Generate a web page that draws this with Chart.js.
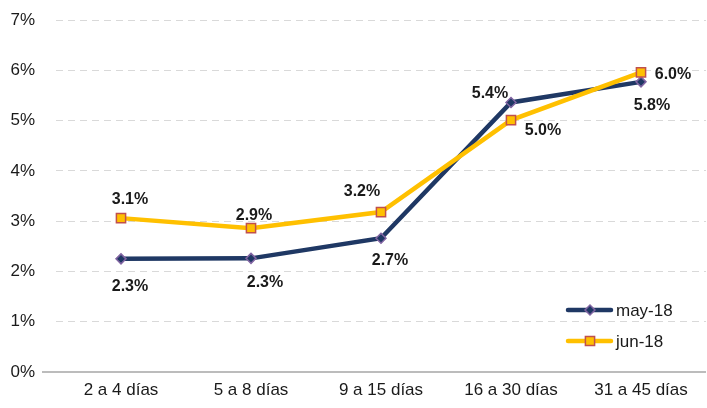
<!DOCTYPE html>
<html>
<head>
<meta charset="utf-8">
<script src="https://cdn.jsdelivr.net/npm/chart.js@4/dist/chart.umd.min.js"></script>
<style>
  html, body { margin: 0; padding: 0; background: #fff; overflow: hidden; }
  #chart { display: block; }
</style>
</head>
<body>
<canvas id="chart" width="714" height="408"></canvas>
<script>
// data
const categories = ["2 a 4 días", "5 a 8 días", "9 a 15 días", "16 a 30 días", "31 a 45 días"];
const may18 = [2.25, 2.26, 2.66, 5.36, 5.77];
const jun18 = [3.06, 2.86, 3.18, 5.01, 5.96];
const yTicks = [0, 1, 2, 3, 4, 5, 6, 7];

// label offsets from each point (px)
const mayLabelOffsets = [[9, 28], [14, 24], [9, 22], [-21, -9], [11, 24]];
const junLabelOffsets = [[9, -19], [3, -13], [-19, -20], [32, 11], [32, 2]];

const FONT = "'Liberation Sans', Arial, sans-serif";
const NAVY = "#1f3864";
const GOLD = "#ffc000";

/* baseline, value labels and legend */
const extras = {
    id: "extras",
    beforeDatasetsDraw(chart) {
        const ctx = chart.ctx;
        const y0 = chart.scales.y.getPixelForValue(0);
        ctx.save();
        ctx.strokeStyle = "#a6a6a6";
        ctx.lineWidth = 1.5;
        ctx.beginPath();
        ctx.moveTo(42, y0);
        ctx.lineTo(chart.chartArea.right, y0);
        ctx.stroke();
        ctx.restore();
    },
    afterDatasetsDraw(chart) {
        const ctx = chart.ctx;
        const offsets = [mayLabelOffsets, junLabelOffsets];
        ctx.save();
        ctx.font = "bold 16px " + FONT;
        ctx.fillStyle = "#1a1a1a";
        ctx.textAlign = "center";
        ctx.textBaseline = "middle";
        chart.data.datasets.forEach((ds, d) => {
            chart.getDatasetMeta(d).data.forEach((pt, i) => {
                let off = offsets[d][i];
                ctx.fillText(ds.data[i].toFixed(1) + "%", pt.x + off[0], pt.y + off[1]);
            });
        });

        // legend
        let rows = [[310, chart.data.datasets[0]], [341, chart.data.datasets[1]]];
        rows.forEach(([y, ds]) => {
            ctx.strokeStyle = ds.borderColor;
            ctx.lineWidth = 4.5;
            ctx.lineCap = "round";
            ctx.beginPath();
            ctx.moveTo(568, y);
            ctx.lineTo(611, y);
            ctx.stroke();

            ctx.fillStyle = ds.pointBackgroundColor;
            ctx.strokeStyle = ds.pointBorderColor;
            ctx.lineWidth = ds.pointBorderWidth;
            Chart.helpers.drawPoint(ctx, {
                pointStyle: ds.pointStyle,
                radius: ds.pointRadius,
                borderWidth: ds.pointBorderWidth
            }, 590, y);

            ctx.fillStyle = "#1a1a1a";
            ctx.font = "17px " + FONT;
            ctx.textAlign = "left";
            ctx.fillText(ds.label, 616, y + 1);
        });
        ctx.restore();
    }
};

new Chart(document.getElementById("chart"), {
    type: "line",
    data: {
        labels: categories,
        datasets: [
            {
                label: "may-18",
                data: may18,
                borderColor: NAVY,
                borderWidth: 4.5,
                pointStyle: "rectRot",
                pointRadius: 5,
                pointBackgroundColor: NAVY,
                pointBorderColor: "#8064a2",
                pointBorderWidth: 1.5,
                tension: 0,
                order: 1
            },
            {
                label: "jun-18",
                data: jun18,
                borderColor: GOLD,
                borderWidth: 4.5,
                pointStyle: "rect",
                pointRadius: 6.5,
                pointBackgroundColor: GOLD,
                pointBorderColor: "#c0504d",
                pointBorderWidth: 1.5,
                tension: 0,
                order: 0
            }
        ]
    },
    options: {
        responsive: false,
        animation: false,
        devicePixelRatio: 1,
        layout: { padding: { top: 20, right: 0, bottom: 0, left: 0 } },
        plugins: {
            legend: { display: false },
            tooltip: { enabled: false }
        },
        scales: {
            x: {
                offset: true,
                grid: { display: false, offset: true },
                border: { display: false },
                ticks: {
                    font: { family: FONT, size: 17 },
                    color: "#1a1a1a",
                    padding: 0,
                    maxRotation: 0,
                    autoSkip: false
                },
                afterFit: scale => { scale.height = 36; }
            },
            y: {
                min: 0,
                max: 7,
                afterBuildTicks: scale => { scale.ticks = yTicks.map(v => ({ value: v })); },
                grid: {
                    drawTicks: true,
                    tickLength: 21,
                    tickColor: "rgba(0,0,0,0)",
                    lineWidth: 1,
                    color: c => c.tick && c.tick.value === 0 ? "rgba(0,0,0,0)" : "#d9d9d9"
                },
                border: { display: false, dash: [7, 5] },
                ticks: {
                    font: { family: FONT, size: 17 },
                    color: "#1a1a1a",
                    padding: 0,
                    callback: v => v + "%"
                },
                afterFit: scale => { scale.width = 56; }
            }
        }
    },
    plugins: [extras]
});
</script>
</body>
</html>
